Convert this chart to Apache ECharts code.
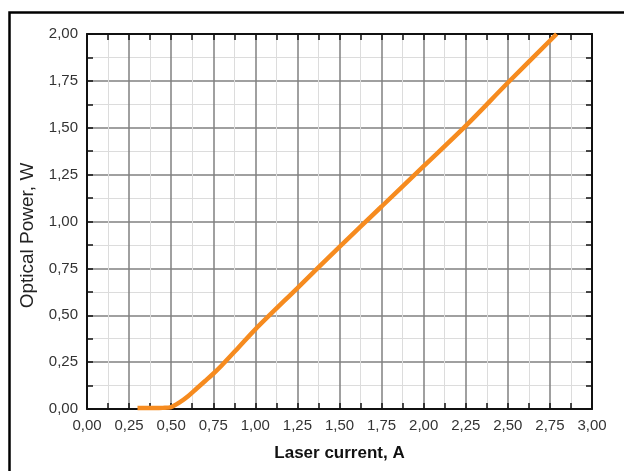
<!DOCTYPE html>
<html>
<head>
<meta charset="utf-8">
<script src="https://cdn.jsdelivr.net/npm/echarts@6/dist/echarts.min.js"></script>
<style>
html,body{margin:0;padding:0;background:#fff;}
#c{width:624px;height:471px;}
</style>
</head>
<body>
<div id="c"></div>
<script>
var currentA = [0.30, 0.35, 0.40, 0.45, 0.50, 0.55, 0.60, 0.65, 0.70, 0.75, 0.80, 0.90, 1.00, 1.25, 1.50, 1.75, 2.00, 2.25, 2.50, 2.79];
var powerW   = [0.005, 0.005, 0.005, 0.006, 0.010, 0.035, 0.068, 0.108, 0.148, 0.188, 0.232, 0.328, 0.425, 0.645, 0.865, 1.080, 1.295, 1.510, 1.740, 2.000];
var xTitle = 'Laser current, A';
var yTitle = 'Optical Power, W';

var fmt = function (v) { return v.toFixed(2).replace('.', ','); };
var pts = currentA.map(function (x, i) { return [x, powerW[i]]; });

function ax(extra) {
  var base = {
    type: 'value', min: 0, interval: 0.25,
    axisLine: { show: true, onZero: false, lineStyle: { color: '#111', width: 2 } },
    axisTick: { show: true, inside: true, length: 6, lineStyle: { color: '#111', width: 1.5 } },
    minorTick: { show: true, splitNumber: 2, length: 6, lineStyle: { color: '#111', width: 1.5 } },
    splitLine: { show: true, lineStyle: { color: '#808080', width: 1.5 } },
    minorSplitLine: { show: true, lineStyle: { color: '#dcdcdc', width: 1 } }
  };
  return Object.assign(base, extra);
}

var chart = echarts.init(document.getElementById('c'), null, { renderer: 'canvas' });
chart.setOption({
  animation: false,
  backgroundColor: '#fff',
  grid: { left: 87, right: 32, top: 34, bottom: 62, containLabel: false },
  graphic: [{
    type: 'rect', left: 7, top: 10, z: 100, silent: true,
    shape: { width: 700, height: 600 },
    style: { fill: 'none', stroke: '#000', lineWidth: 2.5 }
  }],
  xAxis: [
    ax({ max: 3, position: 'bottom', name: xTitle, nameLocation: 'middle', nameGap: 36,
      nameTextStyle: { fontFamily: 'Liberation Sans, Arial', fontSize: 17, fontWeight: 'bold', color: '#111' },
      axisLabel: { formatter: fmt, margin: 9, fontFamily: 'Liberation Sans, Arial', fontSize: 15, color: '#333' } }),
    ax({ max: 3, position: 'top', axisLabel: { show: false }, splitLine: { show: false }, minorSplitLine: { show: false } })
  ],
  yAxis: [
    ax({ max: 2, position: 'left', name: yTitle, nameLocation: 'middle', nameGap: 50,
      nameTextStyle: { fontFamily: 'Liberation Sans, Arial', fontSize: 19, color: '#222', padding: [0, 28, 0, 0] },
      axisLabel: { formatter: fmt, margin: 9, fontFamily: 'Liberation Sans, Arial', fontSize: 15, color: '#333' } }),
    ax({ max: 2, position: 'right', axisLabel: { show: false }, splitLine: { show: false }, minorSplitLine: { show: false } })
  ],
  series: [{
    type: 'line', data: pts, smooth: 0.3, showSymbol: false, symbol: 'none',
    lineStyle: { color: '#F68B1F', width: 4.5 }, z: 5, clip: true
  }]
});
</script>
</body>
</html>
